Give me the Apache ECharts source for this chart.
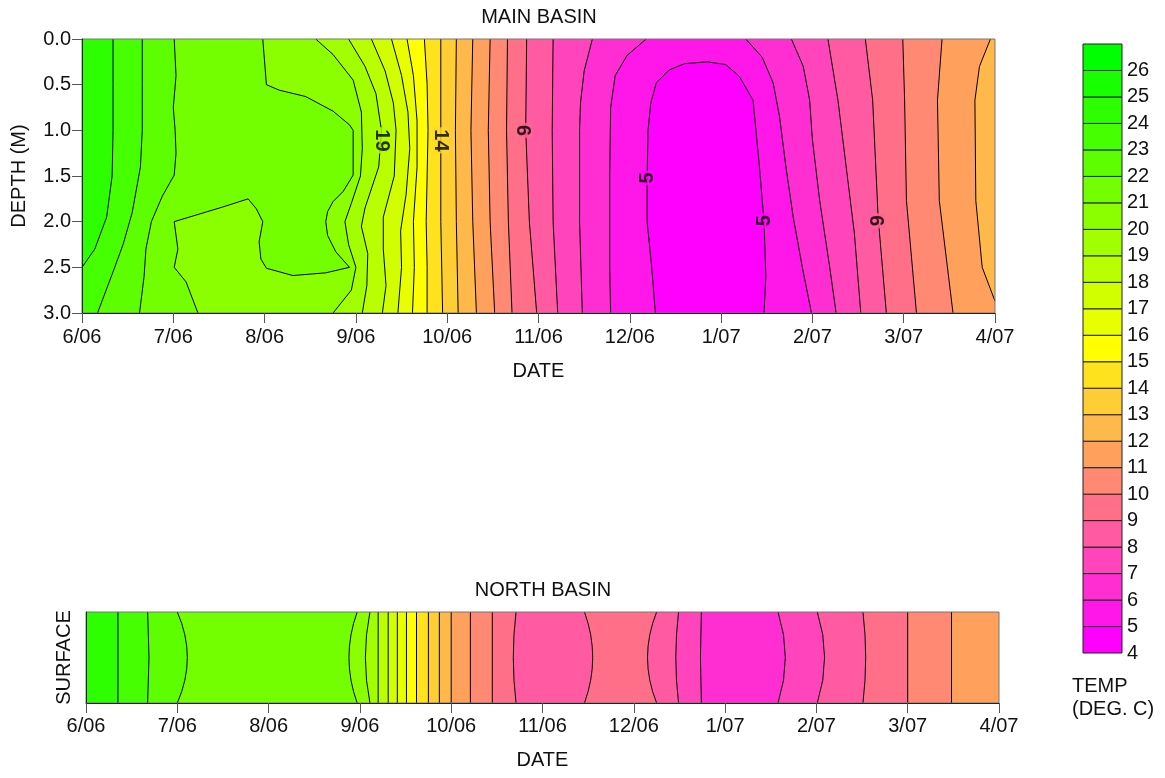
<!DOCTYPE html>
<html>
<head>
<meta charset="utf-8">
<title>Basin temperature</title>
<script src="https://cdn.jsdelivr.net/npm/echarts@6.0.0/dist/echarts.min.js"></script>
<style>
  html, body { margin: 0; padding: 0; background: #fff; }
  #chart { width: 1165px; height: 778px; }
</style>
</head>
<body>
<div id="chart"></div>
<script>
// x = months since 6/06 (0 = 6/06 ... 10 = 4/07), y = depth in metres
const dateLabels = ['6/06', '7/06', '8/06', '9/06', '10/06', '11/06', '12/06', '1/07', '2/07', '3/07', '4/07'];

// colour bands, lower bound of each 1 degree band
const tempBands = [4, 5, 6, 7, 8, 9, 10, 11, 12, 13, 14, 15, 16, 17, 18, 19, 20, 21, 22, 23, 24, 25, 26];
const bandColors = [
  '#FF00FF', '#FF16E8', '#FF2ED2', '#FF44BC', '#FF5AA2', '#FF7088', '#FF8972', '#FFA15C',
  '#FFB84A', '#FFCE34', '#FFE21E', '#FFFF00', '#E8FF00', '#D1FF00', '#BAFF00', '#A2FF00',
  '#8BFF00', '#74FF00', '#5DFF00', '#46FF00', '#2EFF00', '#17FF00', '#00FF00'
];

// MAIN BASIN isotherms, [month, depth]
const iso24 = [[0.34, 0], [0.34, 0.5], [0.34, 1.0], [0.33, 1.5], [0.27, 1.95], [0.14, 2.3], [0, 2.5]];
const iso23 = [[0.66, 0], [0.66, 0.5], [0.66, 1.0], [0.64, 1.4], [0.55, 1.9], [0.45, 2.25], [0.34, 2.55], [0.17, 3]];
const iso22 = [[1.01, 0], [1.03, 0.4], [1.0, 0.75], [1.02, 1.0], [1.03, 1.25], [1.01, 1.49], [0.88, 1.72], [0.76, 2.0], [0.7, 2.3], [0.68, 2.6], [0.63, 3]];
const iso21 = [[1.98, 0], [2.02, 0.5], [2.16, 0.56], [2.45, 0.63], [2.75, 0.79], [2.93, 0.94], [2.97, 1.0], [2.97, 1.49],
  [2.86, 1.67], [2.75, 1.78], [2.69, 1.89], [2.67, 2.0], [2.69, 2.15], [2.78, 2.33], [2.93, 2.5], [2.67, 2.56],
  [2.31, 2.59], [2.02, 2.51], [1.96, 2.41], [1.94, 2.22], [1.98, 2.0], [1.91, 1.86], [1.82, 1.75], [1.54, 1.84],
  [1.01, 2.0], [1.05, 2.3], [1.01, 2.5], [1.14, 2.66], [1.27, 3]];
const iso20 = [[2.56, 0], [2.75, 0.17], [2.97, 0.45], [3.06, 0.8], [3.07, 1.2], [3.05, 1.5], [2.95, 1.8], [2.88, 2.0], [2.92, 2.25], [3.0, 2.5], [2.95, 2.75], [2.75, 3]];
const iso19 = [[2.92, 0], [3.1, 0.3], [3.22, 0.6], [3.28, 1.0], [3.25, 1.4], [3.1, 1.85], [3.06, 2.05], [3.13, 2.35], [3.12, 2.7], [3.07, 3]];
const iso18 = [[3.17, 0], [3.32, 0.35], [3.41, 0.7], [3.44, 1.0], [3.42, 1.5], [3.3, 1.95], [3.3, 2.3], [3.33, 2.7], [3.29, 3]];
const iso17 = [[3.39, 0], [3.5, 0.4], [3.57, 0.8], [3.59, 1.2], [3.55, 1.7], [3.49, 2.1], [3.5, 2.5], [3.46, 3]];
const iso16 = [[3.56, 0], [3.63, 0.4], [3.67, 0.9], [3.67, 1.4], [3.63, 2.0], [3.64, 2.5], [3.62, 3]];
const iso15 = [[3.75, 0], [3.78, 0.5], [3.79, 1.0], [3.78, 1.5], [3.77, 2.0], [3.78, 2.5], [3.78, 3]];
const iso14 = [[3.93, 0], [3.93, 1.0], [3.93, 2.0], [3.95, 3]];
const iso13 = [[4.1, 0], [4.09, 1.0], [4.1, 2.0], [4.12, 3]];
const iso12L = [[4.28, 0], [4.26, 1.0], [4.28, 2.0], [4.32, 3]];
const iso11L = [[4.47, 0], [4.45, 1.0], [4.47, 2.0], [4.52, 3]];
const iso10L = [[4.66, 0], [4.65, 1.0], [4.67, 2.0], [4.71, 3]];
const iso9L = [[4.87, 0], [4.86, 1.0], [4.9, 2.0], [4.98, 3]];
const iso8L = [[5.16, 0], [5.15, 1.0], [5.16, 2.0], [5.21, 3]];
const iso7L = [[5.59, 0], [5.5, 0.35], [5.46, 0.7], [5.45, 1.0], [5.45, 2.0], [5.48, 3]];
const iso6L = [[6.18, 0], [5.97, 0.18], [5.84, 0.4], [5.79, 0.75], [5.78, 1.5], [5.78, 2.5], [5.79, 3]];
const iso5 = [[6.28, 3], [6.24, 2.5], [6.19, 2.0], [6.19, 1.5], [6.2, 1.0], [6.23, 0.7], [6.29, 0.48], [6.43, 0.34],
  [6.6, 0.27], [6.85, 0.25], [7.05, 0.28], [7.2, 0.41], [7.35, 0.67], [7.42, 1.4], [7.47, 2.0], [7.49, 2.6], [7.47, 3]];
const iso6R = [[7.27, 0], [7.45, 0.2], [7.57, 0.48], [7.64, 0.85], [7.71, 1.4], [7.79, 1.95], [7.89, 2.5], [7.99, 3]];
const iso7R = [[7.77, 0], [7.9, 0.3], [7.97, 0.67], [8.0, 1.1], [8.08, 1.77], [8.19, 2.5], [8.26, 3]];
const iso8R = [[8.17, 0], [8.28, 0.67], [8.37, 1.4], [8.46, 2.13], [8.53, 3]];
const iso9R = [[8.58, 0], [8.66, 0.67], [8.72, 1.95], [8.81, 3]];
const iso10R = [[8.99, 0], [9.01, 0.67], [9.03, 1.77], [9.14, 3]];
const iso11R = [[9.42, 0], [9.37, 0.67], [9.39, 1.77], [9.54, 3]];
const iso12R = [[9.95, 0], [9.83, 0.3], [9.78, 0.67], [9.79, 1.77], [9.86, 2.5], [10, 2.87]];

// contour labels: [month, depth, text]
const mainLabels = [[3.28, 1.11, '19'], [3.93, 1.11, '14'], [4.86, 1.0, '9'], [6.19, 1.52, '5'], [7.47, 1.99, '5'], [8.72, 1.99, '9']];

// NORTH BASIN isotherms: month at top/bottom edge and at mid height
const northLevels = [24, 23, 22, 21, 20, 19, 18, 17, 16, 15, 14, 13, 12, 11, 10, 9, 9, 9, 8, 7, 7, 8, 9, 10, 11];
const northEdge = [0.35, 0.675, 1.0, 2.97, 3.11, 3.2, 3.31, 3.41, 3.51, 3.62, 3.75, 3.87, 4.0, 4.21, 4.45, 4.71, 5.46, 6.25, 6.49, 6.74, 7.58, 8.01, 8.51, 9.0, 9.48];
const northMid = [0.35, 0.69, 1.11, 2.88, 3.06, 3.2, 3.31, 3.41, 3.51, 3.62, 3.75, 3.87, 4.0, 4.21, 4.45, 4.68, 5.55, 6.15, 6.46, 6.73, 7.66, 8.09, 8.54, 9.0, 9.48];
const northBands = [24, 23, 22, 21, 20, 19, 18, 17, 16, 15, 14, 13, 12, 11, 10, 9, 8, 9, 8, 7, 6, 7, 8, 9, 10, 11];

const FONT = '"Liberation Sans", Arial, sans-serif';
const TXT = '#111';

const chart = echarts.init(document.getElementById('chart'));

function bandColor(v) { return bandColors[tempBands.indexOf(v)]; }

function mix(a, b) {
  const pa = parseInt(a.slice(1), 16), pb = parseInt(b.slice(1), 16);
  const ch = s => Math.round((((pa >> s) & 255) + ((pb >> s) & 255)) / 2);
  return 'rgb(' + ch(16) + ',' + ch(8) + ',' + ch(0) + ')';
}

// left-hand (cooling) and right-hand (warming) isotherms by level
const leftIso = [[24, iso24], [23, iso23], [22, iso22], [21, iso21], [20, iso20], [19, iso19], [18, iso18], [17, iso17],
  [16, iso16], [15, iso15], [14, iso14], [13, iso13], [12, iso12L], [11, iso11L], [10, iso10L], [9, iso9L], [8, iso8L], [7, iso7L], [6, iso6L]];
const rightIso = [[12, iso12R], [11, iso11R], [10, iso10R], [9, iso9R], [8, iso8R], [7, iso7R], [6, iso6R]];

// regions T >= level, painted from the coldest band upward
const mainRegions = [{ band: 4, pts: [[0, 0], [10, 0], [10, 3], [0, 3]] }];
mainRegions.push({ band: 5, pts: [[0, 0], [10, 0], [10, 3]].concat(iso5.slice().reverse(), [[0, 3]]) });
for (let L = 6; L <= 24; L++) {
  const l = leftIso.find(e => e[0] === L);
  if (l) mainRegions.push({ band: L, pts: [[0, 0]].concat(l[1], [[0, 3]]) });
  const r = rightIso.find(e => e[0] === L);
  if (r) mainRegions.push({ band: L, pts: r[1].concat([[10, 3], [10, 0]]) });
}

const allIso = leftIso.map(e => e[1]).concat([iso5], rightIso.map(e => e[1]));

function dateAxis(gridIndex, margin, nameGap) {
  return {
    gridIndex, type: 'value', min: 0, max: 10, interval: 1, z: 11, position: 'bottom',
    name: 'DATE', nameLocation: 'middle', nameGap,
    nameTextStyle: { fontSize: 20, color: TXT, fontFamily: FONT },
    axisLine: { show: true, onZero: false, lineStyle: { color: '#222', width: 1 } },
    axisTick: { show: true, length: 10, lineStyle: { color: '#555' } },
    axisLabel: { fontSize: 20, color: TXT, fontFamily: FONT, margin, formatter: v => dateLabels[Math.round(v)] || '' },
    splitLine: { show: false }
  };
}

function curve(api, i) {
  const top = api.coord([northEdge[i], 1]);
  const bot = api.coord([northEdge[i], 0]);
  const mid = api.coord([northMid[i], 0.5]);
  const ctrl = [2 * mid[0] - (top[0] + bot[0]) / 2, 2 * mid[1] - (top[1] + bot[1]) / 2];
  return { top, ctrl, bot };
}
function sideEdge(api, x) {
  const top = api.coord([x, 1]);
  const bot = api.coord([x, 0]);
  return { top, ctrl: [(top[0] + bot[0]) / 2, (top[1] + bot[1]) / 2], bot };
}
const P = p => p[0] + ',' + p[1];

const option = {
  animation: false,
  textStyle: { fontFamily: FONT },
  grid: [
    { left: 82, top: 39, width: 913, height: 274, show: true, borderColor: '#777', borderWidth: 1, backgroundColor: 'transparent', z: 10, outerBoundsMode: 'none' },
    { left: 86, top: 612, width: 913, height: 91, show: true, borderColor: '#777', borderWidth: 1, backgroundColor: 'transparent', z: 10, outerBoundsMode: 'none' },
    { left: 1083, top: 44, width: 39, height: 609, outerBoundsMode: 'none' }
  ],
  xAxis: [
    dateAxis(0, 14, 48),
    dateAxis(1, 13, 47),
    { gridIndex: 2, type: 'value', min: 0, max: 1, show: false }
  ],
  yAxis: [
    {
      gridIndex: 0, type: 'value', inverse: true, min: 0, max: 3, interval: 0.5, z: 11, position: 'left',
      name: 'DEPTH (M)', nameLocation: 'middle', nameGap: 53, nameRotate: 90,
      nameTextStyle: { fontSize: 20, color: TXT, fontFamily: FONT },
      axisLine: { show: true, onZero: false, lineStyle: { color: '#222' } },
      axisTick: { show: true, length: 10, lineStyle: { color: '#555' } },
      axisLabel: { fontSize: 20, color: TXT, fontFamily: FONT, margin: 11, formatter: v => v.toFixed(1) },
      splitLine: { show: false }
    },
    {
      gridIndex: 1, type: 'value', min: 0, max: 1, z: 11, position: 'left',
      name: 'SURFACE', nameLocation: 'middle', nameGap: 12, nameRotate: 90,
      nameTextStyle: { fontSize: 20, color: TXT, fontFamily: FONT },
      axisLine: { show: true, onZero: false, lineStyle: { color: '#222' } },
      axisTick: { show: false }, axisLabel: { show: false }, splitLine: { show: false }
    },
    {
      gridIndex: 2, type: 'value', min: 4, max: 27, interval: 1, position: 'right',
      axisLine: { show: false }, axisTick: { show: false }, splitLine: { show: false },
      axisLabel: { fontSize: 20, color: TXT, fontFamily: FONT, margin: 5, formatter: v => (v === 27 ? '' : String(v)) }
    }
  ],
  graphic: [
    { type: 'text', x: 539, y: 17, style: { text: 'MAIN BASIN', fontSize: 20, fontFamily: FONT, fill: TXT, align: 'center', verticalAlign: 'middle' } },
    { type: 'text', x: 543, y: 590, style: { text: 'NORTH BASIN', fontSize: 20, fontFamily: FONT, fill: TXT, align: 'center', verticalAlign: 'middle' } },
    { type: 'text', x: 1072, y: 686, style: { text: 'TEMP', fontSize: 20, fontFamily: FONT, fill: TXT, align: 'left', verticalAlign: 'middle' } },
    { type: 'text', x: 1072, y: 709, style: { text: '(DEG. C)', fontSize: 20, fontFamily: FONT, fill: TXT, align: 'left', verticalAlign: 'middle' } }
  ],
  series: [
    {
      type: 'custom', xAxisIndex: 0, yAxisIndex: 0, silent: true, clip: true, z: 1,
      data: mainRegions.map((r, i) => [r.pts[0][0], r.pts[0][1], i]),
      renderItem: (params, api) => {
        const r = mainRegions[params.dataIndex];
        return { type: 'polygon', shape: { points: r.pts.map(p => api.coord(p)) }, style: { fill: bandColor(r.band) } };
      }
    }
  ].concat(allIso.map(pts => ({
    type: 'line', xAxisIndex: 0, yAxisIndex: 0, data: pts, symbol: 'none', silent: true, z: 2,
    lineStyle: { color: '#000', width: 1 }
  }))).concat([
    {
      type: 'scatter', xAxisIndex: 0, yAxisIndex: 0, silent: true, z: 3, symbolSize: 1,
      itemStyle: { color: 'rgba(0,0,0,0)' },
      data: mainLabels.map((d, i) => {
        const lv = Number(d[2]);
        return {
          value: d,
          label: {
            rotate: i < 2 ? -90 : 90,
            backgroundColor: mix(bandColor(lv), bandColor(lv - 1))
          }
        };
      }),
      label: {
        show: true, position: 'inside', formatter: p => p.value[2],
        fontSize: 20, fontWeight: 'bold', color: '#000', fontFamily: FONT,
        lineHeight: 14, padding: [0, 2]
      }
    },
    {
      type: 'custom', xAxisIndex: 1, yAxisIndex: 1, silent: true, clip: true, z: 1,
      data: northBands.map((b, i) => [i === 0 ? 0 : northEdge[i - 1], 0.5, i]),
      renderItem: (params, api) => {
        const i = params.dataIndex;
        const L = i === 0 ? sideEdge(api, 0) : curve(api, i - 1);
        const R = i === northEdge.length ? sideEdge(api, 10) : curve(api, i);
        const d = 'M' + P(L.top) + 'Q' + P(L.ctrl) + ' ' + P(L.bot) + 'L' + P(R.bot) + 'Q' + P(R.ctrl) + ' ' + P(R.top) + 'Z';
        return { type: 'path', shape: { pathData: d }, style: { fill: bandColor(northBands[i]) } };
      }
    },
    {
      type: 'custom', xAxisIndex: 1, yAxisIndex: 1, silent: true, clip: true, z: 2,
      data: northEdge.map((e, i) => [e, 0.5, northLevels[i]]),
      renderItem: (params, api) => {
        const c = curve(api, params.dataIndex);
        return {
          type: 'path', shape: { pathData: 'M' + P(c.top) + 'Q' + P(c.ctrl) + ' ' + P(c.bot) },
          style: { fill: 'none', stroke: '#000', lineWidth: 1 }
        };
      }
    },
    {
      type: 'custom', xAxisIndex: 2, yAxisIndex: 2, silent: true, z: 2,
      data: tempBands.map(v => [0, v]),
      renderItem: (params, api) => {
        const v = api.value(1);
        const p0 = api.coord([0, v]);
        const p1 = api.coord([1, v + 1]);
        return {
          type: 'rect',
          shape: { x: p0[0], y: p1[1], width: p1[0] - p0[0], height: p0[1] - p1[1] },
          style: { fill: bandColors[params.dataIndex], stroke: '#222', lineWidth: 1 }
        };
      }
    }
  ])
};

chart.setOption(option);
window.addEventListener('resize', () => chart.resize());
</script>
</body>
</html>
